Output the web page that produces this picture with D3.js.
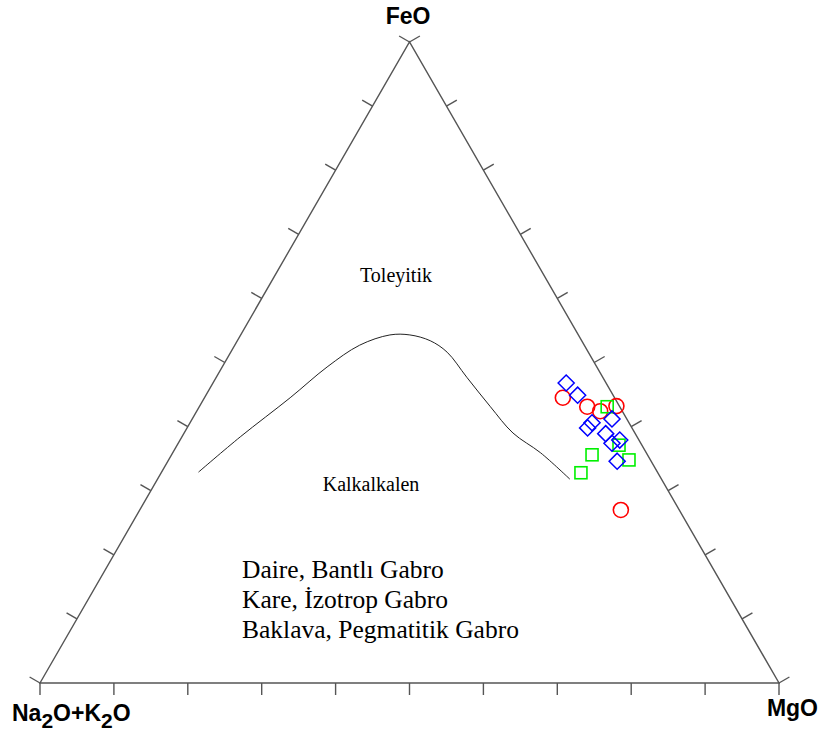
<!DOCTYPE html>
<html lang="tr">
<head>
    <meta charset="UTF-8">
    <title>AFM diyagrami</title>
    <script src="https://cdn.jsdelivr.net/npm/d3@7"></script>
    <style>
        body { margin: 0; background: #fff; }
    </style>
</head>
<body>
<script>
    var w = 821;
    var h = 738;

    // ternary values, in percent: [FeO, Na2O+K2O, MgO]
    var bantli = [
        [44.5, 7.0, 48.5],
        [43.1, 4.4, 52.5],
        [42.4, 3.0, 54.6],
        [43.2, 0.4, 56.4],
        [27.0, 7.9, 65.1]
    ];
    var izotrop = [
        [43.1, 1.7, 55.2],
        [37.1, 3.1, 59.8],
        [34.8, 2.9, 62.3],
        [35.6, 7.5, 56.9],
        [32.8, 10.4, 56.8]
    ];
    var pegmatitik = [
        [46.8, 5.4, 47.8],
        [44.9, 4.8, 50.3],
        [41.2, 2.0, 56.8],
        [39.8, 6.0, 54.2],
        [40.6, 5.0, 54.4],
        [38.9, 4.0, 57.1],
        [37.4, 3.9, 58.7],
        [37.9, 2.6, 59.5],
        [34.6, 4.6, 60.8]
    ];
    // Irvine & Baragar boundary (toleyitik / kalkalkalen)
    var boundary = [
        [32.9, 62.1, 5.0],
        [38.4, 53.7, 7.9],
        [44.5, 43.9, 11.6],
        [49.3, 36.5, 14.2],
        [52.7, 30.4, 16.9],
        [54.3, 25.5, 20.2],
        [54.3, 22.8, 22.9],
        [53.4, 20.5, 26.1],
        [51.6, 19.1, 29.3],
        [47.7, 18.4, 33.9],
        [43.1, 17.5, 39.4],
        [39.0, 16.5, 44.5],
        [35.9, 14.3, 49.8],
        [31.8, 12.4, 55.8]
    ];
    var ticks = d3.range(0, 101, 10);
    var legendLines = ["Daire, Bantlı Gabro", "Kare, İzotrop Gabro", "Baklava, Pegmatitik Gabro"];

    var svg = d3.select("body")
        .append("svg")
        .attr("width", w)
        .attr("height", h);

    // horizontal position = MgO + FeO/2, vertical = FeO
    var xScale = d3.scaleLinear().domain([0, 100]).range([40, 779]);
    var yScale = d3.scaleLinear().domain([0, 100]).range([683, 42]);

    function px(d) {
        var s = d[0] + d[1] + d[2];
        return xScale((d[2] + d[0] / 2) * 100 / s);
    }
    function py(d) {
        var s = d[0] + d[1] + d[2];
        return yScale(d[0] * 100 / s);
    }

    var corners = [[0, 100, 0], [100, 0, 0], [0, 0, 100]];
    svg.append("path")
        .attr("d", "M" + corners.map(function (d) { return px(d) + "," + py(d); }).join("L") + "Z")
        .attr("fill", "none")
        .attr("stroke", "#555")
        .attr("stroke-width", 1.4);

    // ticks on the three edges, pointing outwards
    var tickLen = 12;
    var tickData = [];
    ticks.forEach(function (t) {
        tickData.push({p: [0, 100 - t, t], dx: 0, dy: 1});            // bottom
        tickData.push({p: [t, 100 - t, 0], dx: -0.866, dy: -0.5});    // left
        tickData.push({p: [t, 0, 100 - t], dx: 0.866, dy: -0.5});     // right
    });
    svg.selectAll("line.tick")
        .data(tickData).enter()
        .append("line")
        .attr("class", "tick")
        .attr("x1", function (d) { return px(d.p); })
        .attr("y1", function (d) { return py(d.p); })
        .attr("x2", function (d) { return px(d.p) + d.dx * tickLen; })
        .attr("y2", function (d) { return py(d.p) + d.dy * tickLen; })
        .attr("stroke", "#555")
        .attr("stroke-width", 1.4);

    var line = d3.line()
        .x(px)
        .y(py)
        .curve(d3.curveCatmullRom);
    svg.append("path")
        .attr("d", line(boundary))
        .attr("fill", "none")
        .attr("stroke", "#222")
        .attr("stroke-width", 1);

    // markers
    svg.selectAll("circle.bantli")
        .data(bantli).enter()
        .append("circle")
        .attr("cx", px)
        .attr("cy", py)
        .attr("r", 7.5)
        .attr("fill", "none")
        .attr("stroke", "#ff0000")
        .attr("stroke-width", 1.6);

    svg.selectAll("rect.izotrop")
        .data(izotrop).enter()
        .append("rect")
        .attr("x", function (d) { return px(d) - 6; })
        .attr("y", function (d) { return py(d) - 6; })
        .attr("width", 12)
        .attr("height", 12)
        .attr("fill", "none")
        .attr("stroke", "#00f000")
        .attr("stroke-width", 1.6);

    var diamond = d3.symbol().type(d3.symbolDiamond2).size(165);
    svg.selectAll("path.pegmatitik")
        .data(pegmatitik).enter()
        .append("path")
        .attr("d", diamond)
        .attr("transform", function (d) { return "translate(" + px(d) + "," + py(d) + ")"; })
        .attr("fill", "none")
        .attr("stroke", "#0000ff")
        .attr("stroke-width", 1.5);

    // corner labels
    svg.append("text")
        .attr("x", 408)
        .attr("y", 24)
        .attr("text-anchor", "middle")
        .attr("font-family", "Liberation Sans, Arial, sans-serif")
        .attr("font-weight", "bold")
        .attr("font-size", "23px")
        .text("FeO");

    svg.append("text")
        .attr("x", 818)
        .attr("y", 716)
        .attr("text-anchor", "end")
        .attr("font-family", "Liberation Sans, Arial, sans-serif")
        .attr("font-weight", "bold")
        .attr("font-size", "23px")
        .text("MgO");

    var alk = svg.append("text")
        .attr("x", 12)
        .attr("y", 721)
        .attr("font-family", "Liberation Sans, Arial, sans-serif")
        .attr("font-weight", "bold")
        .attr("font-size", "23px");
    [["Na", 0], ["2", 1], ["O+K", 0], ["2", 1], ["O", 0]].forEach(function (p) {
        alk.append("tspan")
            .attr("font-size", p[1] ? "21px" : "23px")
            .attr("dy", p[1] ? 7 : (p[0] === "Na" ? 0 : -7))
            .text(p[0]);
    });

    // field labels
    svg.append("text")
        .attr("x", 396)
        .attr("y", 282)
        .attr("text-anchor", "middle")
        .attr("font-family", "Liberation Serif, Times New Roman, serif")
        .attr("font-size", "20px")
        .text("Toleyitik");

    svg.append("text")
        .attr("x", 371)
        .attr("y", 491)
        .attr("text-anchor", "middle")
        .attr("font-family", "Liberation Serif, Times New Roman, serif")
        .attr("font-size", "20px")
        .text("Kalkalkalen");

    svg.selectAll("text.legend")
        .data(legendLines).enter()
        .append("text")
        .attr("class", "legend")
        .attr("x", 242)
        .attr("y", function (d, i) { return 578 + i * 30; })
        .attr("font-family", "Liberation Serif, Times New Roman, serif")
        .attr("font-size", "25.5px")
        .text(function (d) { return d; });
</script>
</body>
</html>
